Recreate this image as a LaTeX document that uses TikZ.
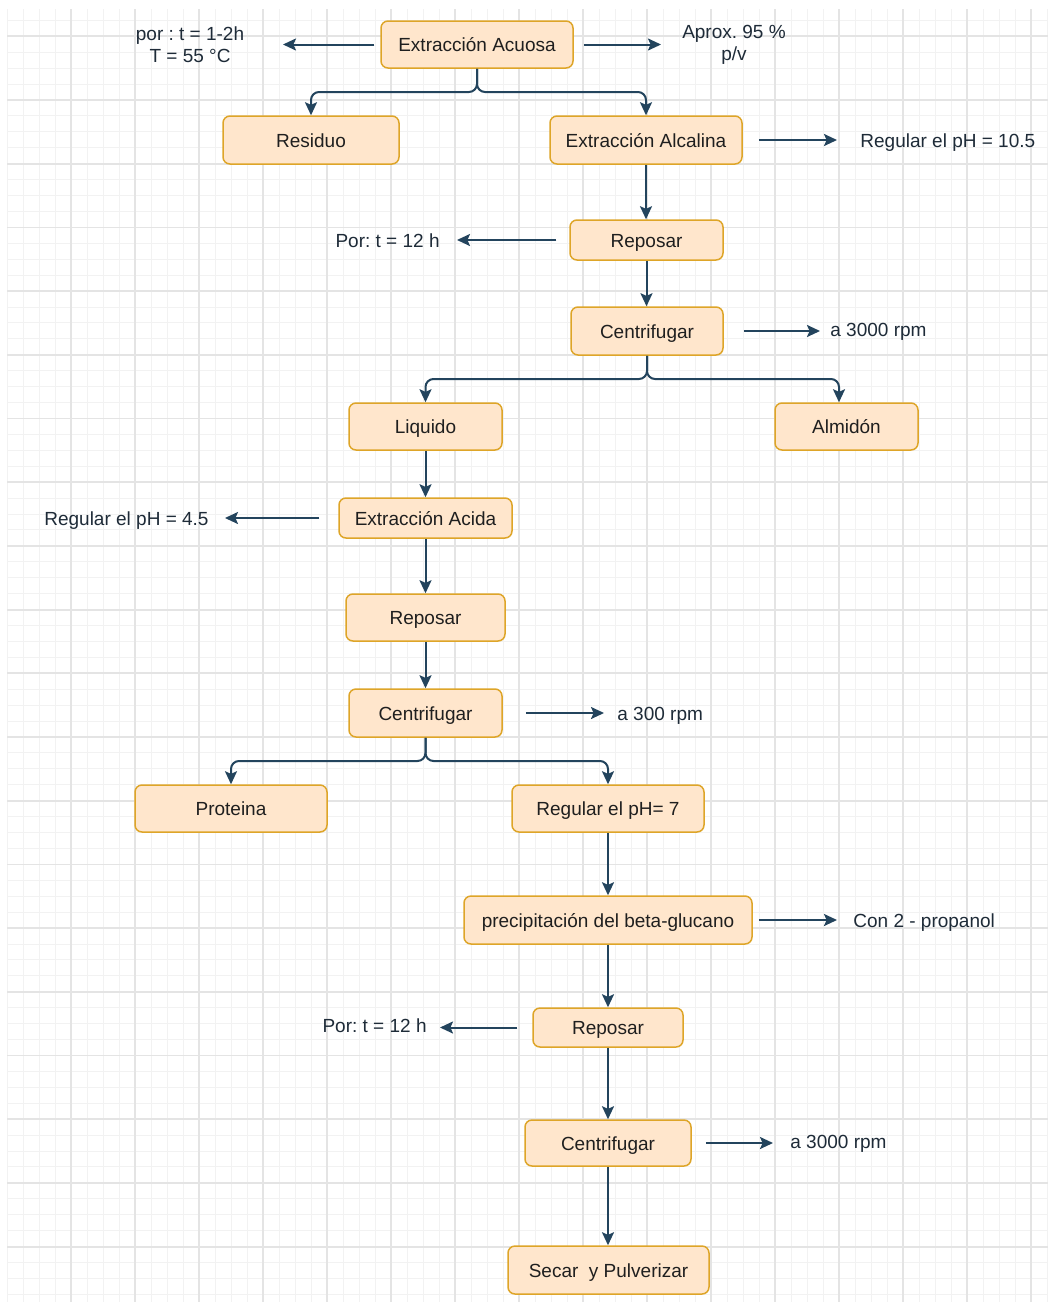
\documentclass[tikz,border=0pt]{standalone}
\usepackage{fontspec}
\setmainfont{Liberation Sans}
\usetikzlibrary{arrows.meta}
\definecolor{boxfill}{HTML}{FFE6CC}
\definecolor{boxline}{RGB}{222,165,40}
\definecolor{flowcol}{HTML}{23445D}
\definecolor{gridminor}{HTML}{F2F2F2}
\definecolor{gridmajor}{HTML}{E4E4E4}
\definecolor{notecol}{HTML}{1E2B38}
\frenchspacing

\begin{document}
\begin{tikzpicture}[x=0.5pt,y=-0.5pt,
  stage/.style={draw=boxline, fill=boxfill, line width=0.75pt, rounded corners=3.5pt,
    inner sep=0pt, text=black!88, font=\fontsize{9.5}{11}\selectfont,
    text height=7pt, text depth=0pt},
  note/.style={inner sep=0pt, text=notecol, align=center, font=\fontsize{9.5}{11}\selectfont},
  sidenote/.style={note, text height=7pt, text depth=0pt},
  flow/.style={draw=flowcol, line width=1pt, -{Stealth[length=6.5pt,width=6pt,inset=1.3pt]}},
  branch/.style={flow, rounded corners=4pt},
]
% page and background grid
\useasboundingbox (0,0) rectangle (1048,1302);
\fill[white] (0,0) rectangle (1048,1302);
\begin{scope}
  \clip (7,9) rectangle (1048,1302);
  \foreach \i in {0,...,65}
    \draw[gridminor, line width=0.5pt] ({7+16*\i},9) -- ({7+16*\i},1302);
  \foreach \j in {-5,...,75}
    \draw[gridminor, line width=0.5pt] (7,{100+15.925*\j}) -- (1048,{100+15.925*\j});
  \foreach \i in {1,...,16}
    \draw[gridmajor, line width=0.9pt] ({7+64*\i},9) -- ({7+64*\i},1302);
  \foreach \j in {-1,...,18}
    \draw[gridmajor, line width=0.9pt] (7,{100+63.7*\j}) -- (1048,{100+63.7*\j});
\end{scope}

% process stages
\node[stage, minimum width=96pt,   minimum height=23.5pt] (acuosa)   at (477,44.5)    {Extracción Acuosa};
\node[stage, minimum width=88pt,   minimum height=24pt]   (residuo)  at (311,140)     {Residuo};
\node[stage, minimum width=96pt,   minimum height=24pt]   (alcalina) at (646,140)     {Extracción Alcalina};
\node[stage, minimum width=76.5pt, minimum height=20pt]   (reposarA) at (646.5,240)   {Reposar};
\node[stage, minimum width=76pt,   minimum height=24pt]   (centriA)  at (647,331)     {Centrifugar};
\node[stage, minimum width=76.5pt, minimum height=23.5pt] (liquido)  at (425.5,426.5) {Liquido};
\node[stage, minimum width=71.5pt, minimum height=23.5pt] (almidon)  at (846.5,426.5) {Almidón};
\node[stage, minimum width=86.5pt, minimum height=20pt]   (acida)    at (425.5,518)   {Extracción Acida};
\node[stage, minimum width=79.5pt, minimum height=23.5pt] (reposarB) at (425.5,617.5) {Reposar};
\node[stage, minimum width=76.5pt, minimum height=24pt]   (centriB)  at (425.5,713)   {Centrifugar};
\node[stage, minimum width=96pt,   minimum height=23.5pt] (proteina) at (231,808.5)   {Proteina};
\node[stage, minimum width=96pt,   minimum height=23.5pt] (ph7)      at (608,808.5)   {Regular el pH= 7};
\node[stage, minimum width=144pt,  minimum height=24pt]   (precip)   at (608,920)     {precipitación del beta-glucano};
\node[stage, minimum width=75pt,   minimum height=19.5pt] (reposarC) at (608,1027.5)  {Reposar};
\node[stage, minimum width=83pt,   minimum height=23pt]   (centriC)  at (608,1143)    {Centrifugar};
\node[stage, minimum width=100.5pt,minimum height=24pt]   (secar)    at (608.5,1270)  {Secar\ \ y Pulverizar};

% side notes
\node[note] (nA) at (190,45) {por : t = 1-2h\\T = 55 °C};
\node[note] (nB) at (734,45) {Aprox. 95 \%\\p/v};
\node[sidenote, anchor=west] (nC) at (860,140)  {Regular el pH = 10.5};
\node[sidenote, anchor=east] (nD) at (440,240)  {Por: t = 12 h};
\node[sidenote, anchor=west] (nE) at (830,329)  {a 3000 rpm};
\node[sidenote, anchor=east] (nF) at (209,518)  {Regular el pH = 4.5};
\node[sidenote, anchor=west] (nG) at (617,713)  {a 300 rpm};
\node[sidenote, anchor=west] (nH) at (853,920)  {Con 2 - propanol};
\node[sidenote, anchor=east] (nI) at (427,1025) {Por: t = 12 h};
\node[sidenote, anchor=west] (nJ) at (790,1141) {a 3000 rpm};

% arrow tips pointing at the notes
\coordinate (tA) at (283,44.5);
\coordinate (tB) at (661,44.5);
\coordinate (tC) at (837,140);
\coordinate (tD) at (457,240);
\coordinate (tE) at (820,331);
\coordinate (tF) at (225,518);
\coordinate (tG) at (604,713);
\coordinate (tH) at (837,920);
\coordinate (tI) at (440,1027.5);
\coordinate (tJ) at (773,1143);

\draw[flow, shorten <=3pt]   (acuosa.west)   -- (tA);
\draw[flow, shorten <=5pt]   (acuosa.east)   -- (tB);
\draw[flow, shorten <=8pt]   (alcalina.east) -- (tC);
\draw[flow, shorten <=6.5pt] (reposarA.west) -- (tD);
\draw[flow, shorten <=10pt]  (centriA.east)  -- (tE);
\draw[flow, shorten <=9.5pt] (acida.west)    -- (tF);
\draw[flow, shorten <=11.5pt](centriB.east)  -- (tG);
\draw[flow, shorten <=3pt]   (precip.east)   -- (tH);
\draw[flow, shorten <=7.5pt] (reposarC.west) -- (tI);
\draw[flow, shorten <=7pt]   (centriC.east)  -- (tJ);

% branching connectors
\coordinate (jA) at (477,92);
\coordinate (jB) at (647,379);
\coordinate (jC) at (425.5,761);
\draw[branch] (acuosa.south) -- (jA) -| (residuo.north);
\draw[branch] (acuosa.south) -- (jA) -| (alcalina.north);
\draw[branch] (centriA.south) -- (jB) -| (liquido.north);
\draw[branch] (centriA.south) -- (jB) -| ([xshift=-3.75pt]almidon.north);
\draw[branch] (centriB.south) -- (jC) -| (proteina.north);
\draw[branch] (centriB.south) -- (jC) -| (ph7.north);

% straight flow
\draw[flow] (alcalina.south) -- (alcalina.south |- reposarA.north);
\draw[flow] (reposarA.south) -- (reposarA.south |- centriA.north);
\draw[flow] (liquido.south)  -- (acida.north);
\draw[flow] (acida.south)    -- (reposarB.north);
\draw[flow] (reposarB.south) -- (centriB.north);
\draw[flow] (ph7.south)      -- (precip.north);
\draw[flow] (precip.south)   -- (reposarC.north);
\draw[flow] (reposarC.south) -- (centriC.north);
\draw[flow] (centriC.south)  -- (centriC.south |- secar.north);
\end{tikzpicture}
\end{document}
